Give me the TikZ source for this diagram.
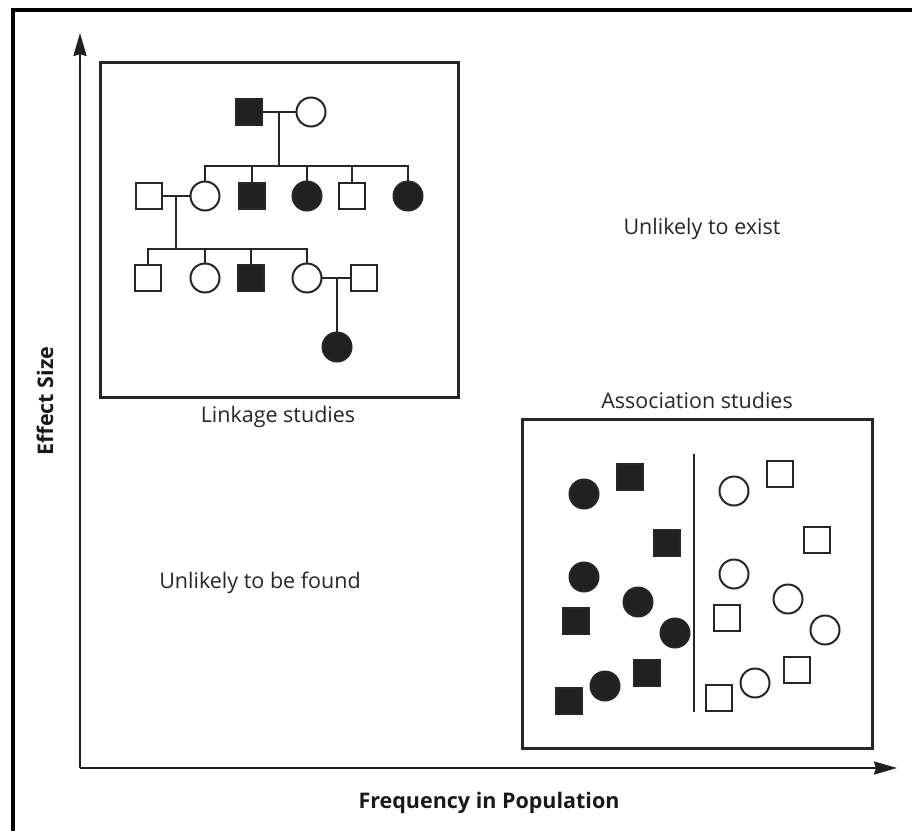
\documentclass[tikz,border=0pt]{standalone}
\usepackage{fontspec}
\setmainfont{Open Sans}
\usepackage{tikz}
\usetikzlibrary{arrows.meta, positioning, calc}

\begin{document}
\begin{tikzpicture}[
  x=1pt, y=-1pt,
  every node/.style={inner sep=0pt, outer sep=0pt},
  axis/.style={line width=2.2pt, draw=black!88, -{Stealth[length=23pt, width=13pt, inset=2pt]}},
  panel/.style={line width=3pt, draw=black!85},
  kin/.style={line width=2pt, draw=black!85},
  male/.style={draw=black!85, line width=2pt, rectangle, minimum size=26pt},
  female/.style={draw=black!85, line width=2pt, circle, minimum size=29pt},
  aff/.style={fill=black!87},
  lbl/.style={font=\fontsize{21.5}{25}\selectfont, text=black!85},
  axlbl/.style={font=\bfseries\fontsize{21.5}{25}\selectfont, text=black!90},
]
  \useasboundingbox (0,0) rectangle (912,830);
  \begin{scope}
    \clip (0,0) rectangle (912,830);
    \draw[line width=3.5pt] (13,10) rectangle (930,850);
  \end{scope}

  % axes
  \coordinate (origin) at (80,768);
  \coordinate (ytop) at (80,33);
  \coordinate (xend) at (897,768);
  \draw[axis] (origin) -- (ytop);
  \draw[axis] (origin) -- (xend);
  \node (ylab) [axlbl, rotate=90] at (45,401) {Effect Size};
  \node (xlab) [axlbl] at (489,803) {Frequency in Population};

  % linkage panel
  \draw[panel] (100,62) rectangle (458,397);
  \node (linklab) [lbl] at (278,417) {Linkage studies};

  \node (g1m) [male, aff] at (249,112) {};
  \node (g1f) [female] at (311,112) {};

  \node (g2h) [male] at (149,196) {};
  \node (g2a) [female] at (205,196) {};
  \node (g2b) [male, aff] at (252,196) {};
  \node (g2c) [female, aff] at (307,196) {};
  \node (g2d) [male] at (352,196) {};
  \node (g2e) [female, aff] at (408,196) {};

  \node (g3a) [male] at (148,278) {};
  \node (g3b) [female] at (205,278) {};
  \node (g3c) [male, aff] at (251,278) {};
  \node (g3d) [female] at (307,278) {};
  \node (g3h) [male] at (364,278) {};

  \node (g4a) [female, aff] at (337,347) {};

  % marriage lines and sibships
  \draw[kin] (g1m) -- (g1f);
  \coordinate (m1) at (279,112);
  \coordinate (s1) at (279,166);
  \draw[kin] (m1) -- (s1);
  \draw[kin] (g2a.north) |- (s1) -| (g2e.north);
  \foreach \c in {g2b, g2c, g2d}
    \draw[kin] (\c.north) -- (\c.north |- s1);

  \draw[kin] (g2h) -- (g2a);
  \coordinate (m2) at (176,196);
  \coordinate (s2) at (176,249);
  \draw[kin] (m2) -- (s2);
  \draw[kin] (g3a.north) |- (s2) -| (g3d.north);
  \foreach \c in {g3b, g3c}
    \draw[kin] (\c.north) -- (\c.north |- s2);

  \draw[kin] (g3d) -- (g3h);
  \coordinate (m3) at (337,278);
  \draw[kin] (m3) -- (g4a);

  % association panel
  \draw[panel] (522,419) rectangle (872,748);
  \node (assoclab) [lbl] at (697,400) {Association studies};
  \coordinate (dtop) at (694,454);
  \coordinate (dbot) at (694,712);
  \draw[line width=2.5pt, draw=black!85] (dtop) -- (dbot);

  % cases
  \node (c1) [female, aff] at (584,494) {};
  \node (c2) [male, aff] at (630,477) {};
  \node (c3) [male, aff] at (667,543) {};
  \node (c4) [female, aff] at (584,577) {};
  \node (c5) [female, aff] at (638,602) {};
  \node (c6) [male, aff] at (576,621) {};
  \node (c7) [female, aff] at (675,633) {};
  \node (c8) [male, aff] at (647,673) {};
  \node (c9) [female, aff] at (605,686) {};
  \node (c10) [male, aff] at (569,701) {};

  % controls
  \node (k1) [female] at (734,491) {};
  \node (k2) [male] at (780,474) {};
  \node (k3) [male] at (817,540) {};
  \node (k4) [female] at (734,574) {};
  \node (k5) [female] at (788,599) {};
  \node (k6) [male] at (727,618) {};
  \node (k7) [female] at (825,630) {};
  \node (k8) [male] at (797,670) {};
  \node (k9) [female] at (755,683) {};
  \node (k10) [male] at (719,698) {};

  \node (exist) [lbl] at (702,229) {Unlikely to exist};
  \node (found) [lbl] at (260,583) {Unlikely to be found};
\end{tikzpicture}
\end{document}
